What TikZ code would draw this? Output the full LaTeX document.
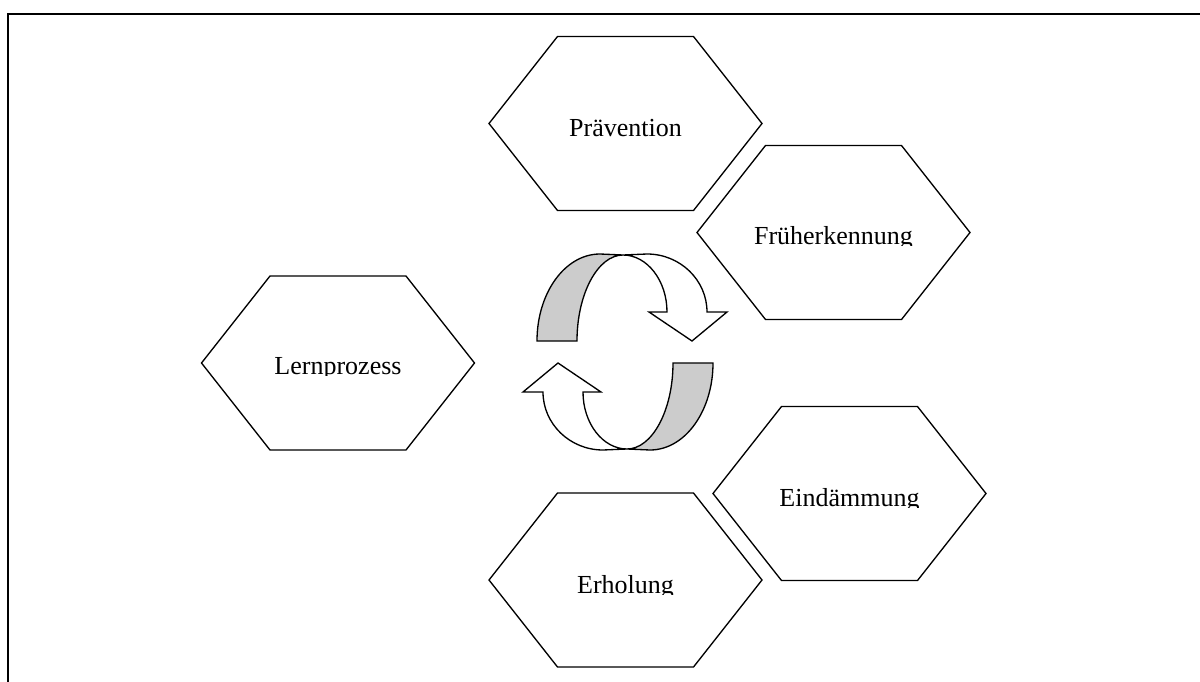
\documentclass[tikz,border=0pt]{standalone}
\usepackage{fontspec}
\setmainfont{Liberation Serif}
\begin{document}
\begin{tikzpicture}[x=0.75pt,y=-0.75pt,
  hexline/.style={draw=black,line width=1pt,fill=white,line join=miter},
  lbl/.style={anchor=base,inner sep=0pt,font=\fontsize{19.5}{23}\selectfont},
  arrowwhite/.style={draw=black,line width=1pt,fill=white,line join=miter},
  arrowgray/.style={draw=black,line width=1pt,fill=black!20,line join=miter},
  frameline/.style={draw=black,line width=1.3pt}]
\useasboundingbox (0,0) rectangle (1200,682);
% frame (right and bottom sides lie outside the page)
\draw[frameline] (1210,14) -- (8,14) -- (8,700);
% hexagon + clipped label
\newcommand\myhex[5]{%
  \draw[hexline] ({#2-136.5},#3) -- ({#2-68},{#3-87}) -- ({#2+68},{#3-87})
     -- ({#2+136.5},#3) -- ({#2+68},{#3+87}) -- ({#2-68},{#3+87}) -- cycle;
  \begin{scope}
    \clip ({#2-130},{#3-60}) rectangle ({#2+130},{#4+1});
    \node[lbl] (#1) at (#2,#4) {#5};
  \end{scope}}
\myhex{prae}{625.5}{123.5}{136}{Prävention}
\myhex{frueh}{833.5}{232.5}{244}{Früherkennung}
\myhex{lern}{338}{363}{374}{Lernprozess}
\myhex{eind}{849.5}{493.5}{506}{Eindämmung}
\myhex{erh}{625.5}{580}{593}{Erholung}
% central cycle arrows
\newcommand\halfcycle{%
  \draw[arrowwhite] (-2,-97) -- (22,-98) .. controls (55,-98) and (82,-72) .. (82,-40)
     -- (102,-40) -- (67,-11) -- (24,-40) -- (42,-40)
     .. controls (42,-71.5) and (22,-97) .. (-2,-97) -- cycle;
  \draw[arrowgray] (-88,-11) .. controls (-88,-59) and (-60,-98) .. (-25,-98)
     -- (-2,-97) .. controls (-27,-97) and (-48,-58.5) .. (-48,-11) -- cycle;}
\begin{scope}[shift={(625,352)}]
  \halfcycle
\end{scope}
\begin{scope}[shift={(625,352)},rotate=180]
  \halfcycle
\end{scope}
\end{tikzpicture}
\end{document}
